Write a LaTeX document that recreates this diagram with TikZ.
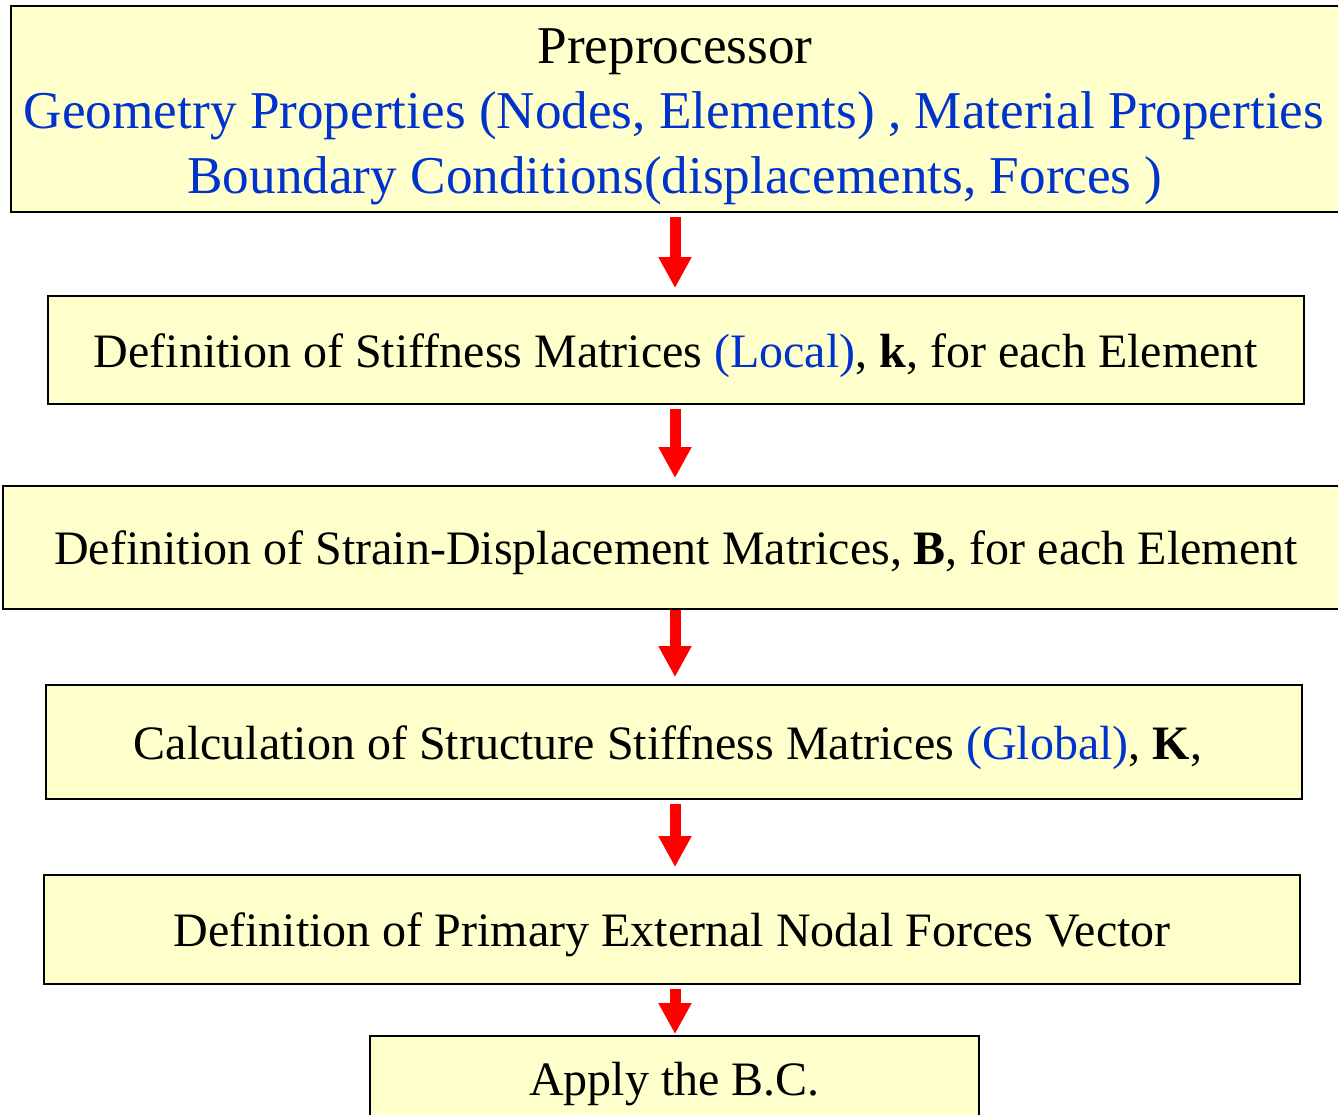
\documentclass[tikz,border=0pt]{standalone}
\usepackage{fontspec}
\setmainfont{Liberation Serif}
\usetikzlibrary{arrows.meta}
\definecolor{boxfill}{HTML}{FFFFCC}
\definecolor{labelblue}{HTML}{0033CC}
\definecolor{arrowred}{HTML}{FF0000}
\tikzset{
  stepbox/.style={draw=black, line width=1.8pt, fill=boxfill, inner sep=0pt,
    font=\fontsize{48}{58}\selectfont, text height=40pt, text depth=6pt},
  boxtext/.style={anchor=base, inner sep=0pt, font=\fontsize{53.2}{64}\selectfont},
  flow/.style={draw=arrowred, line width=11pt,
    -{Triangle[width=31pt,length=31pt]}, shorten <=4pt, shorten >=7pt},
}
\newcommand{\blu}[1]{\textcolor{labelblue}{#1}}
\begin{document}
\begin{tikzpicture}[x=1pt,y=-1pt]
  \useasboundingbox (0,0) rectangle (1338,1114);
  \clip (0,0) rectangle (1338,1114);
  \coordinate (axis) at (675,0);

  % preprocessing block
  \node[stepbox, minimum width=1329pt, minimum height=206pt] (pre) at (675.5,109) {};
  \node[boxtext] (preA) at (675,63) {Preprocessor};
  \node[boxtext] (preB) at (674,128) {\blu{Geometry Properties (Nodes, Elements) , Material Properties}};
  \node[boxtext] (preC) at (675,193) {\blu{Boundary Conditions(displacements, Forces )}};

  % processing steps
  \node[stepbox, minimum width=1256pt, minimum height=108pt] (stiff) at (676,350)
    {Definition of Stiffness Matrices \blu{(Local)}, \textbf{k}, for each Element};
  \node[stepbox, minimum width=1346pt, minimum height=123pt] (strain) at (676,547.5)
    {Definition of Strain-Displacement Matrices, \textbf{B}, for each Element};
  \node[stepbox, minimum width=1256pt, minimum height=114pt] (glob) at (674,742)
    {Calculation of Structure Stiffness Matrices \blu{(Global)}, \textbf{K},\kern12pt};
  \node[stepbox, minimum width=1256pt, minimum height=109pt] (force) at (672,929.5)
    {Definition of Primary External Nodal Forces Vector};
  \node[stepbox, minimum width=609pt, minimum height=88pt, text height=38pt, text depth=8pt] (bc) at (674.5,1080)
    {Apply the B.C.};

  % flow arrows
  \draw[flow] (pre.south -| axis) -- (stiff.north -| axis);
  \draw[flow] (stiff.south -| axis) -- (strain.north -| axis);
  \draw[flow, shorten <=0pt] (strain.south -| axis) -- (glob.north -| axis);
  \draw[flow] (glob.south -| axis) -- (force.north -| axis);
  \draw[flow, shorten >=1pt] (force.south -| axis) -- (bc.north -| axis);
\end{tikzpicture}
\end{document}
